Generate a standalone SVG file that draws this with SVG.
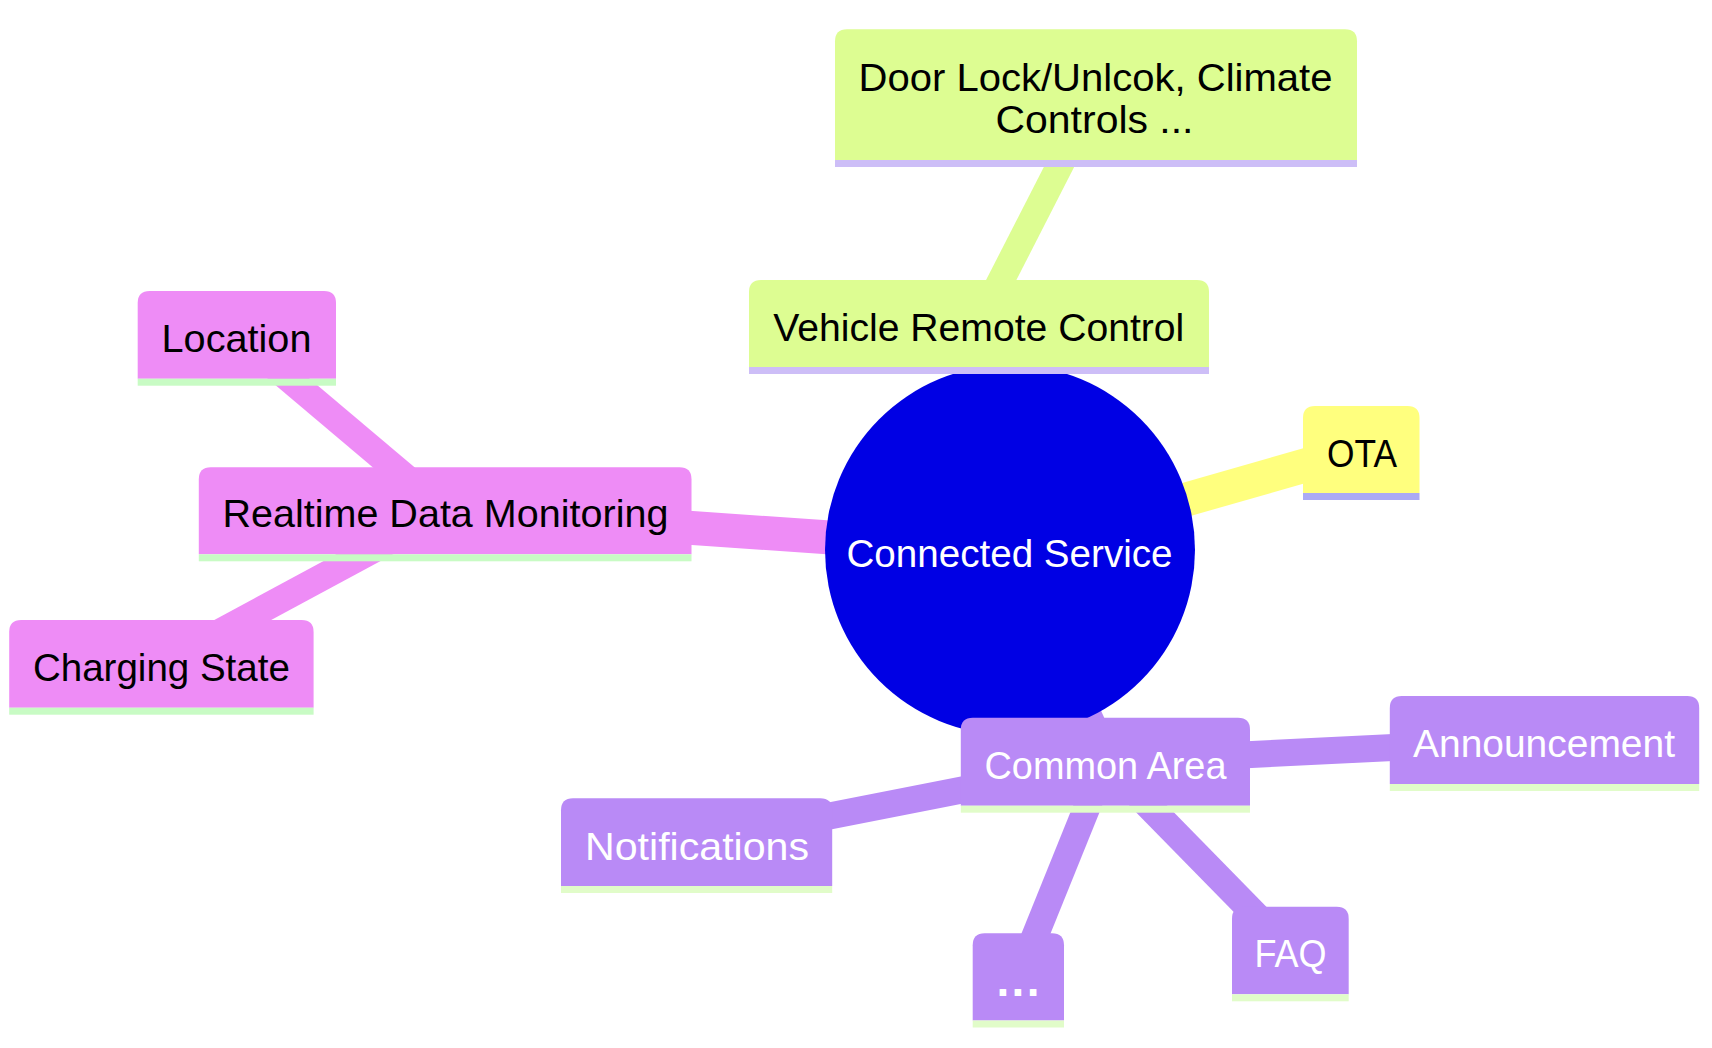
<svg xmlns="http://www.w3.org/2000/svg" width="1712" height="1048" viewBox="0 0 1712 1048">
<style>
  text { font-family: "Liberation Sans", Arial, sans-serif; font-size: 38.4px; text-anchor: middle; }
  .dark { fill: #000000; }
  .light { fill: #ffffff; }
  .e { fill: none; stroke-linecap: butt; }
  .d1 { stroke-width: 34; }
  .d2 { stroke-width: 27; }
  .green { fill: #ddfd92; }
  .greenE { stroke: #ddfd92; }
  .greenL { fill: #cdbef7; }
  .yellow { fill: #ffff7e; }
  .yellowE { stroke: #ffff7e; }
  .yellowL { fill: #abaaf5; }
  .pink { fill: #ee8cf6; }
  .pinkE { stroke: #ee8cf6; }
  .pinkL { fill: #c8fbc4; }
  .purple { fill: #b98af6; }
  .purpleE { stroke: #b98af6; }
  .purpleL { fill: #e1fcc9; }
</style>
<rect x="0" y="0" width="1712" height="1048" fill="#ffffff"/>

<g id="connectors">
  <line class="e d1 greenE" x1="1010" y1="550" x2="979" y2="323.5"/>
  <line class="e d2 greenE" x1="979" y1="323.5" x2="1096" y2="94.6"/>
  <line class="e d1 yellowE" x1="1010" y1="550" x2="1361.3" y2="449.4"/>
  <line class="e d1 pinkE" x1="1010" y1="550" x2="445.2" y2="510.8"/>
  <line class="e d2 pinkE" x1="445.2" y1="510.8" x2="236.9" y2="335"/>
  <line class="e d2 pinkE" x1="445.2" y1="510.8" x2="161.4" y2="663.9"/>
  <line class="e d1 purpleE" x1="1010" y1="550" x2="1105.4" y2="761.7"/>
  <line class="e d2 purpleE" x1="1105.4" y1="761.7" x2="1544.5" y2="740"/>
  <line class="e d2 purpleE" x1="1105.4" y1="761.7" x2="696.6" y2="842.2"/>
  <line class="e d2 purpleE" x1="1105.4" y1="761.7" x2="1018.4" y2="977"/>
  <line class="e d2 purpleE" x1="1105.4" y1="761.7" x2="1290.4" y2="950.5"/>
</g>

<g id="root">
  <circle cx="1010" cy="550" r="185" fill="#0000e4"/>
  <text class="light" x="1009.5" y="566.7" textLength="326" lengthAdjust="spacingAndGlyphs">Connected Service</text>
</g>

<g id="vehicle-remote-control">
  <path class="green" d="M749 367 V292 Q749 280 761 280 H1197 Q1209 280 1209 292 V367 Z"/>
  <rect class="greenL" x="749" y="367" width="460" height="7"/>
  <text class="dark" x="978.8" y="340.7" textLength="411" lengthAdjust="spacingAndGlyphs">Vehicle Remote Control</text>
</g>

<g id="door-lock">
  <path class="green" d="M835 160 V41.3 Q835 29.3 847 29.3 H1345 Q1357 29.3 1357 41.3 V160 Z"/>
  <rect class="greenL" x="835" y="160" width="522" height="7"/>
  <text class="dark" x="1095.5" y="90.7" textLength="474" lengthAdjust="spacingAndGlyphs">Door Lock/Unlcok, Climate</text>
  <text class="dark" x="1094.5" y="133.3" textLength="198" lengthAdjust="spacingAndGlyphs">Controls ...</text>
</g>

<g id="ota">
  <path class="yellow" d="M1303 493 V418 Q1303 406 1315 406 H1407.5 Q1419.5 406 1419.5 418 V493 Z"/>
  <rect class="yellowL" x="1303" y="493" width="116.5" height="7"/>
  <text class="dark" x="1362" y="466.7" textLength="70" lengthAdjust="spacingAndGlyphs">OTA</text>
</g>

<g id="realtime-data-monitoring">
  <path class="pink" d="M198.8 554.3 V479.3 Q198.8 467.3 210.8 467.3 H679.5 Q691.5 467.3 691.5 479.3 V554.3 Z"/>
  <rect class="pinkL" x="198.8" y="554.3" width="492.7" height="7"/>
  <text class="dark" x="445.4" y="527.3" textLength="446" lengthAdjust="spacingAndGlyphs">Realtime Data Monitoring</text>
</g>

<g id="location">
  <path class="pink" d="M137.7 378.7 V303 Q137.7 291 149.7 291 H324 Q336 291 336 303 V378.7 Z"/>
  <rect class="pinkL" x="137.7" y="378.7" width="198.3" height="7"/>
  <text class="dark" x="236.5" y="351.7" textLength="150" lengthAdjust="spacingAndGlyphs">Location</text>
</g>

<g id="charging-state">
  <path class="pink" d="M9.2 707.7 V632 Q9.2 620 21.2 620 H301.6 Q313.6 620 313.6 632 V707.7 Z"/>
  <rect class="pinkL" x="9.2" y="707.7" width="304.4" height="7"/>
  <text class="dark" x="161.4" y="681" textLength="257" lengthAdjust="spacingAndGlyphs">Charging State</text>
</g>

<g id="common-area">
  <path class="purple" d="M960.8 805.7 V729.7 Q960.8 717.7 972.8 717.7 H1238 Q1250 717.7 1250 729.7 V805.7 Z"/>
  <rect class="purpleL" x="960.8" y="805.7" width="289.2" height="7"/>
  <text class="light" x="1105.5" y="779" textLength="242" lengthAdjust="spacingAndGlyphs">Common Area</text>
</g>

<g id="announcement">
  <path class="purple" d="M1389.8 784 V708 Q1389.8 696 1401.8 696 H1687.2 Q1699.2 696 1699.2 708 V784 Z"/>
  <rect class="purpleL" x="1389.8" y="784" width="309.4" height="7"/>
  <text class="light" x="1544" y="757.3" textLength="262" lengthAdjust="spacingAndGlyphs">Announcement</text>
</g>

<g id="notifications">
  <path class="purple" d="M561 886 V810.3 Q561 798.3 573 798.3 H820.2 Q832.2 798.3 832.2 810.3 V886 Z"/>
  <rect class="purpleL" x="561" y="886" width="271.2" height="7"/>
  <text class="light" x="697" y="860" textLength="224" lengthAdjust="spacingAndGlyphs">Notifications</text>
</g>

<g id="more">
  <path class="purple" d="M972.7 1020.5 V945.3 Q972.7 933.3 984.7 933.3 H1052 Q1064 933.3 1064 945.3 V1020.5 Z"/>
  <rect class="purpleL" x="972.7" y="1020.5" width="91.3" height="7"/>
  <text class="light" x="1018" y="995.5" style="font-size:46px;font-weight:bold" textLength="43" lengthAdjust="spacing">...</text>
</g>

<g id="faq">
  <path class="purple" d="M1232 994.3 V918.7 Q1232 906.7 1244 906.7 H1336.7 Q1348.7 906.7 1348.7 918.7 V994.3 Z"/>
  <rect class="purpleL" x="1232" y="994.3" width="116.7" height="7"/>
  <text class="light" x="1290.4" y="967.3" textLength="72" lengthAdjust="spacingAndGlyphs">FAQ</text>
</g>
</svg>
